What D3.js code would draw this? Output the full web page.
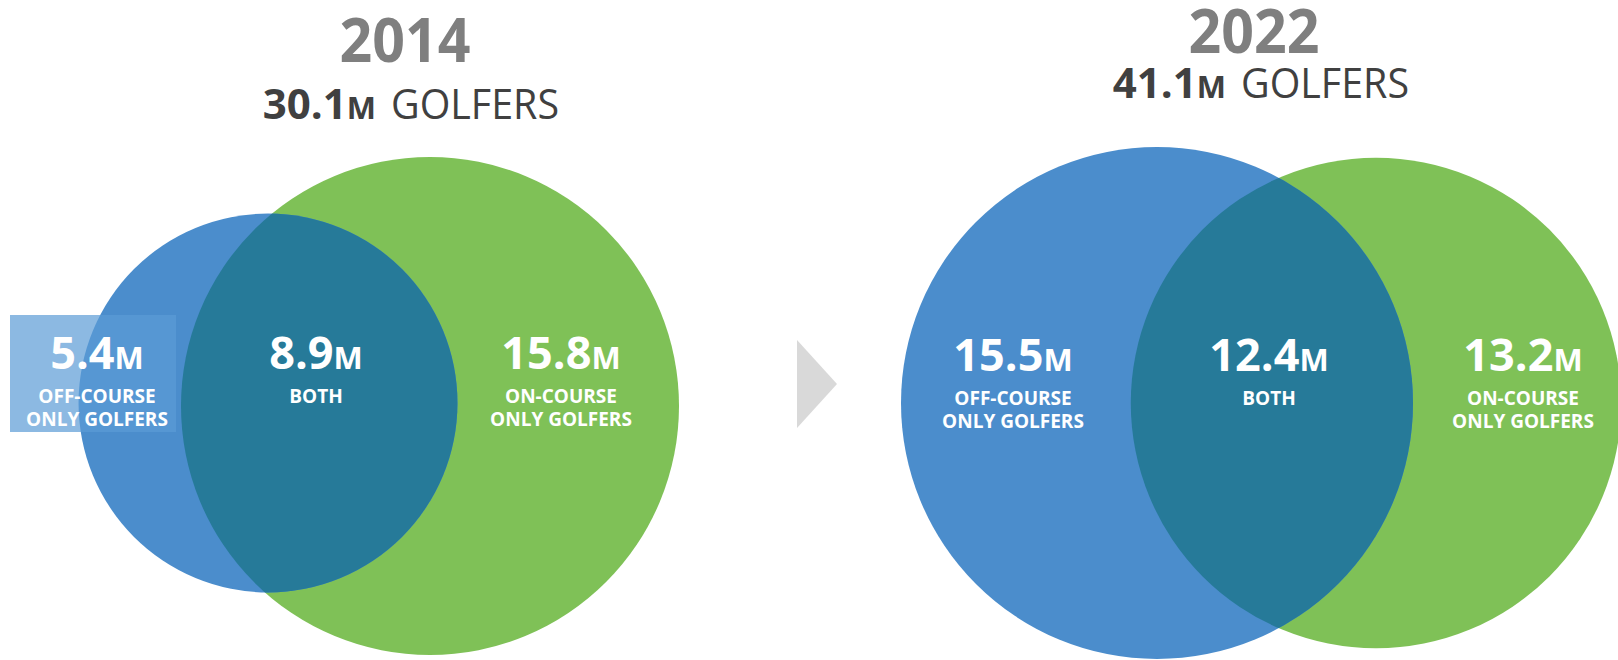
<!DOCTYPE html>
<html>
<head>
<meta charset="utf-8">
<script src="https://cdn.jsdelivr.net/npm/d3@7"></script>
<style>
  html, body { margin: 0; padding: 0; background: #ffffff; }
  svg { display: block; font-family: 'Open Sans', 'Noto Sans', sans-serif; }
</style>
</head>
<body>
<svg id="chart" width="1618" height="660"></svg>
<script>
// ---- data (millions of golfers) ----
const years = ["2014", "2022"];
const totalGolfers = [30.1, 41.1];
const offCourseOnly = [5.4, 15.5];
const bothGroups = [8.9, 12.4];
const onCourseOnly = [15.8, 13.2];
const regionNames = [["OFF-COURSE", "ONLY GOLFERS"], ["BOTH"], ["ON-COURSE", "ONLY GOLFERS"]];
const unitSuffix = "M";
const subtitleWord = "GOLFERS";

// ---- styling ----
const colors = {
  off: "#4b8dcc",
  on: "#7fc157",
  both: "#267a99",
  title: "#7f7f7f",
  subtitle: "#404040",
  arrow: "#d9d9d9",
  box: "#5b9bd5"
};

// ---- layout of each year's panel ----
const panels = [
  { titleX: 405, titleY: 62, subX: 409, subY: 119, maxR: 249,
    offC: [268, 403], onC: [430, 406],
    labelX: [97, 316, 561], numY: 369, lineY: 403, box: [10, 315, 166, 117] },
  { titleX: 1254, titleY: 53, subX: 1259, subY: 98, maxR: 256,
    offC: [1157, 403], onC: [1376, 403],
    labelX: [1013, 1269, 1523], numY: 371, lineY: 405, box: null }
];

const svg = d3.select("#chart");
const fmt = d3.format(".1f");
const defs = svg.append("defs");

years.forEach((year, i) => {
  const p = panels[i];
  const offTotal = offCourseOnly[i] + bothGroups[i];
  const onTotal = onCourseOnly[i] + bothGroups[i];

  // circle area proportional to the group size
  const r = d3.scaleSqrt().domain([0, Math.max(offTotal, onTotal)]).range([0, p.maxR]);

  const g = svg.append("g").attr("class", "panel-" + year);

  // on-course circle
  g.append("circle")
    .attr("cx", p.onC[0]).attr("cy", p.onC[1])
    .attr("r", r(onTotal))
    .attr("fill", colors.on);

  // off-course circle
  g.append("circle")
    .attr("cx", p.offC[0]).attr("cy", p.offC[1])
    .attr("r", r(offTotal))
    .attr("fill", colors.off);

  // overlap: off-course circle clipped to the on-course circle
  const clipId = "clip-on-" + year;
  defs.append("clipPath").attr("id", clipId)
    .append("circle")
    .attr("cx", p.onC[0]).attr("cy", p.onC[1])
    .attr("r", r(onTotal));
  g.append("circle")
    .attr("cx", p.offC[0]).attr("cy", p.offC[1])
    .attr("r", r(offTotal))
    .attr("clip-path", "url(#" + clipId + ")")
    .attr("fill", colors.both);

  // highlight box behind the off-course label
  if (p.box) {
    g.append("rect")
      .attr("x", p.box[0]).attr("y", p.box[1])
      .attr("width", p.box[2]).attr("height", p.box[3])
      .attr("fill", colors.box)
      .attr("fill-opacity", 0.7);
  }

  // year title
  g.append("text")
    .attr("x", p.titleX - 65.5).attr("y", p.titleY)
    .attr("textLength", 131).attr("lengthAdjust", "spacingAndGlyphs")
    .attr("font-size", 60).attr("font-weight", 700)
    .attr("fill", colors.title)
    .text(year);

  // total golfers subtitle
  const subNum = g.append("text")
    .attr("x", p.subX - 33).attr("y", p.subY)
    .attr("text-anchor", "end")
    .attr("font-weight", 700)
    .attr("fill", colors.subtitle);
  subNum.append("tspan").attr("font-size", 42).text(fmt(totalGolfers[i]));
  subNum.append("tspan").attr("font-size", 31).text(unitSuffix);

  g.append("text")
    .attr("x", p.subX - 18).attr("y", p.subY)
    .attr("textLength", 168).attr("lengthAdjust", "spacingAndGlyphs")
    .attr("font-size", 42).attr("font-weight", 400)
    .attr("fill", colors.subtitle)
    .text(subtitleWord);

  // region labels
  const values = [offCourseOnly[i], bothGroups[i], onCourseOnly[i]];
  values.forEach((v, k) => {
    const num = g.append("text")
      .attr("x", p.labelX[k]).attr("y", p.numY)
      .attr("text-anchor", "middle")
      .attr("font-weight", 700)
      .attr("fill", "#ffffff");
    num.append("tspan").attr("font-size", 45).text(fmt(v));
    num.append("tspan").attr("font-size", 31).text(unitSuffix);

    const name = g.append("text")
      .attr("y", p.lineY)
      .attr("text-anchor", "middle")
      .attr("font-size", 19).attr("font-weight", 700)
      .attr("fill", "#ffffff");
    regionNames[k].forEach((line, j) => {
      name.append("tspan")
        .attr("x", p.labelX[k])
        .attr("dy", j === 0 ? 0 : 23)
        .text(line);
    });
  });
});

// arrow between the two years
svg.append("path")
  .attr("d", d3.line()([[797, 340], [837, 384], [797, 428]]) + "Z")
  .attr("fill", colors.arrow);
</script>
</body>
</html>
